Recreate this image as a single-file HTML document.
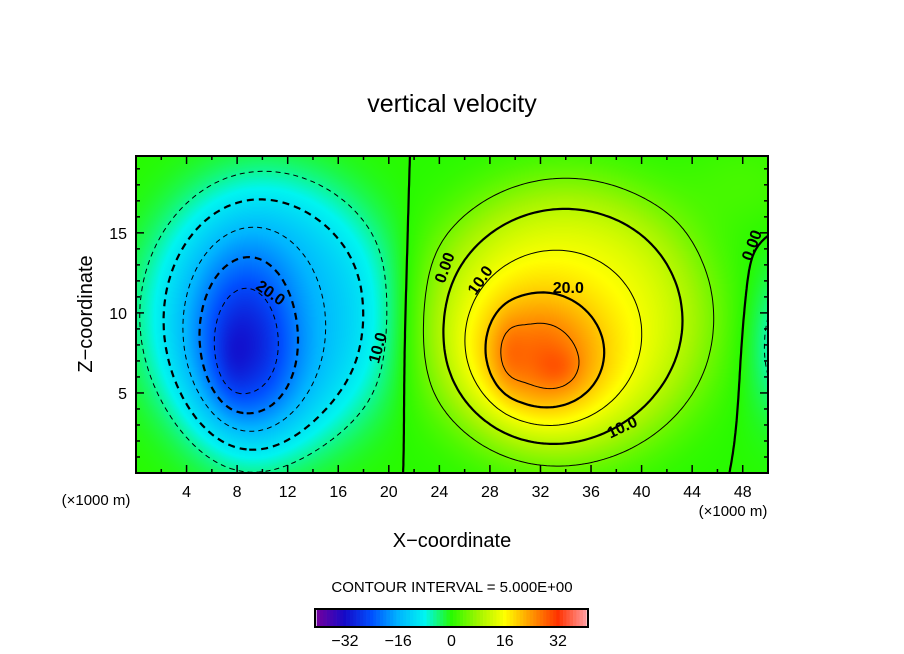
<!DOCTYPE html>
<html><head><meta charset="utf-8"><style>
body{margin:0;background:#fff;}
#wrap{position:relative;width:904px;height:654px;overflow:hidden;font-family:"Liberation Sans",sans-serif;}
canvas{position:absolute;left:136px;top:156px;}
svg{position:absolute;left:0;top:0;}
</style></head><body>
<div id="wrap">
<canvas id="heat" width="632" height="317"></canvas>
<svg id="svg" width="904" height="654">
<text x="452" y="112" text-anchor="middle" font-size="25">vertical velocity</text>
<text x="452" y="547" text-anchor="middle" font-size="20">X−coordinate</text>
<text transform="translate(92,314) rotate(-90)" text-anchor="middle" font-size="20">Z−coordinate</text>
<text x="96" y="505" text-anchor="middle" font-size="15">(×1000 m)</text>
<text x="733" y="516" text-anchor="middle" font-size="15">(×1000 m)</text>
<text x="452" y="592" text-anchor="middle" font-size="15">CONTOUR INTERVAL = 5.000E+00</text>
<g id="contours"></g>
<g id="labels" font-size="16" font-weight="bold"></g>
<g id="axes"></g>
<g id="cbar"></g>
</svg>
</div>
<script>
// blobs: centers, widths, amplitudes, shape exponent
const blobX=[10.5,8.7,7.6,34,32,29.5,33.5,52.5,48];
const blobZ=[9.9,8,7,9.6,7.2,7.5,6.5,8,18];
const blobSX=[10,4.2,1.3,11.5,5.3,1.2,1.6,3.3,5];
const blobSZ=[8.7,5.8,2.5,8.6,4.2,2.2,1.2,4.5,3];
const blobAmp=[-14,-16,-2,15,13,2.5,2.5,-11,2];
const blobP=[2,1,1,2,1,1,1,1,1];
const xTicks=[4,8,12,16,20,24,28,32,36,40,44,48];
const zTicks=[5,10,15];
const levels=[-25,-20,-15,-10,-5,0,5,10,15,20,25];
const cbTicks=[-32,-16,0,16,32];
const PL=136,PR=768,PT=156,PB=473,X0=0,X1=50,Z0=0,Z1=19.8;
const sx=x=>PL+(x-X0)/(X1-X0)*(PR-PL);
const sz=z=>PB-(z-Z0)/(Z1-Z0)*(PB-PT);
function field(x,z){let v=0;for(let i=0;i<blobX.length;i++){const q=((x-blobX[i])/blobSX[i])**2+((z-blobZ[i])/blobSZ[i])**2;v+=blobAmp[i]*Math.exp(-Math.pow(q,blobP[i]));}return v;}
const stops=[[-40,[110,0,160]],[-32,[20,10,200]],[-24,[0,80,255]],[-16,[0,180,255]],[-8,[0,245,240]],[0,[40,250,0]],[8,[160,245,0]],[16,[255,255,0]],[24,[255,150,0]],[32,[255,50,0]],[40,[255,150,150]]];
function col(v){v=Math.max(-40,Math.min(40,v));for(let i=0;i<stops.length-1;i++){const a=stops[i],b=stops[i+1];if(v<=b[0]){const t=(v-a[0])/(b[0]-a[0]);return a[1].map((c,k)=>Math.round(c+(b[1][k]-c)*t));}}return stops[stops.length-1][1];}
const cv=document.getElementById('heat'),ctx=cv.getContext('2d'),img=ctx.createImageData(632,317);
for(let py=0;py<317;py++)for(let px=0;px<632;px++){const x=X0+(px+.5)/632*(X1-X0),z=Z1-(py+.5)/317*(Z1-Z0);const c=col(field(x,z));const o=(py*632+px)*4;img.data[o]=c[0];img.data[o+1]=c[1];img.data[o+2]=c[2];img.data[o+3]=255;}
ctx.putImageData(img,0,0);
const NS='http://www.w3.org/2000/svg';
function mk(t,a,p){const e=document.createElementNS(NS,t);for(const k in a)e.setAttribute(k,a[k]);p.appendChild(e);return e;}
// contours via marching squares, chained into polylines
const st=0.25,nx=Math.round((X1-X0)/st),nz=Math.round((Z1-Z0)/st);
const G=[];for(let j=0;j<=nz;j++){G.push([]);for(let i=0;i<=nx;i++)G[j].push(field(X0+i*st,Z0+j*st));}
const cg=document.getElementById('contours');
levels.forEach(L=>{const segs=[];
 for(let j=0;j<nz;j++)for(let i=0;i<nx;i++){const v=[G[j][i],G[j][i+1],G[j+1][i+1],G[j+1][i]];const P=[[i,j],[i+1,j],[i+1,j+1],[i,j+1]];const pts=[];
  for(let e=0;e<4;e++){const a=v[e],b=v[(e+1)%4];if((a<L)!==(b<L)){const t=(L-a)/(b-a);const pa=P[e],pb=P[(e+1)%4];pts.push([sx(X0+(pa[0]+(pb[0]-pa[0])*t)*st),sz(Z0+(pa[1]+(pb[1]-pa[1])*t)*st)]);}}
  for(let k=0;k+1<pts.length;k+=2)segs.push([pts[k],pts[k+1]]);}
 const key=p=>p[0].toFixed(2)+','+p[1].toFixed(2);
 const map={};segs.forEach((s,i)=>{[0,1].forEach(e=>{const k=key(s[e]);(map[k]=map[k]||[]).push(i);});});
 const used=new Array(segs.length).fill(false);let d='';
 for(let s=0;s<segs.length;s++){if(used[s])continue;used[s]=true;let line=[segs[s][0],segs[s][1]];
  for(let dir=0;dir<2;dir++){let going=true;while(going){going=false;const end=line[line.length-1];const cand=map[key(end)]||[];
    for(const c of cand){if(!used[c]){used[c]=true;const sg=segs[c];line.push(key(sg[0])===key(end)?sg[1]:sg[0]);going=true;break;}}}
   line.reverse();}
  d+='M'+line.map(p=>p[0].toFixed(1)+' '+p[1].toFixed(1)).join('L');}
 const thick=(L%10===0);
 const p=mk('path',{d:d,fill:'none',stroke:'#000','stroke-width':thick?2.2:1,'stroke-linejoin':'round','stroke-dasharray':L<0?(thick?'7 5':'5 4'):'none'},cg);
 
 
});
const lg=document.getElementById('labels');
[['0.00',24.5,12.8,-70],['10.0',27.3,12,-55],['20.0',34.2,11.5,0],['10.0',38.5,2.8,-25],['0.00',48.8,14.2,-70],['20.0',10.6,11.2,35],['10.0',19.2,7.8,-75]].forEach(l=>{
 const t=mk('text',{transform:'translate('+sx(l[1])+','+sz(l[2])+') rotate('+l[3]+')','text-anchor':'middle','dominant-baseline':'middle'},lg);t.textContent=l[0];
 
 
});
// axes
const ax=document.getElementById('axes');
mk('rect',{x:PL,y:PT,width:PR-PL,height:PB-PT,fill:'none',stroke:'#000','stroke-width':2},ax);
for(let x=2;x<50;x+=2){const L=(x%4===0)?8:4;mk('line',{x1:sx(x),x2:sx(x),y1:PB,y2:PB-L,stroke:'#000','stroke-width':1.5},ax);mk('line',{x1:sx(x),x2:sx(x),y1:PT,y2:PT+L,stroke:'#000','stroke-width':1.5},ax);}
for(let z=1;z<20;z+=1){const L=(z%5===0)?8:4;mk('line',{x1:PL,x2:PL+L,y1:sz(z),y2:sz(z),stroke:'#000','stroke-width':1.5},ax);mk('line',{x1:PR,x2:PR-L,y1:sz(z),y2:sz(z),stroke:'#000','stroke-width':1.5},ax);}
xTicks.forEach(x=>{const t=mk('text',{x:sx(x),y:497,'text-anchor':'middle','font-size':16},ax);t.textContent=x;
 
 });
zTicks.forEach(z=>{const t=mk('text',{x:127,y:sz(z)+6,'text-anchor':'end','font-size':16},ax);t.textContent=z;
 
 });
// colorbar
const cb=document.getElementById('cbar');const CL=315,CR=588,CT=609,CB=627;const cx=v=>CL+(v+41)/82*(CR-CL);
for(let v=-40;v<=40;v++){const c=col(v);const r=mk('rect',{x:cx(v-0.5),y:CT,width:(CR-CL)/82+0.3,height:CB-CT,fill:'rgb('+c.join(',')+')'},cb);
 
 }
mk('rect',{x:CL,y:CT,width:CR-CL,height:CB-CT,fill:'none',stroke:'#000','stroke-width':2},cb);
cbTicks.forEach(v=>{const t=mk('text',{x:cx(v),y:646,'text-anchor':'middle','font-size':16},cb);t.textContent=(v<0?'−'+(-v):v);
 
 });
</script>
</body></html>
